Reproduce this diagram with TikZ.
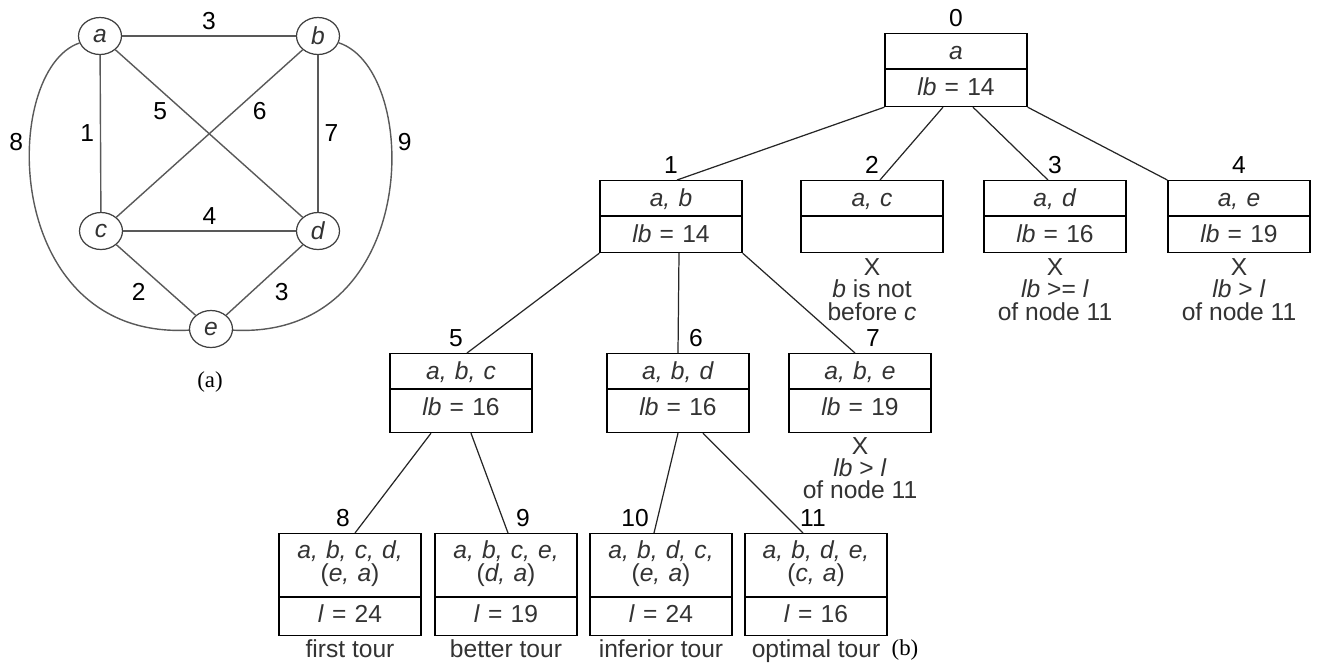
\documentclass[tikz,border=0pt]{standalone}
\usepackage{fontspec}
\setmainfont{Liberation Sans}
\newfontfamily\capfont{Liberation Serif}
\usetikzlibrary{positioning,calc,shapes.geometric,shapes.multipart}
\newcommand{\hdstrut}{\rule[-0.18cm]{0pt}{0.68cm}}
\newcommand{\lbstrut}{\rule[-0.18cm]{0pt}{0.70cm}}
\newcommand{\lbtallstrut}{\rule[-0.32cm]{0pt}{0.84cm}}
\newcommand{\tourtop}{\rule{0pt}{0.48cm}}
\newcommand{\tourbot}{\rule[-0.3cm]{0pt}{0pt}}
\newcommand{\lenstrut}{\rule[-0.24cm]{0pt}{0.74cm}}
\tikzset{
  vert/.style={ellipse,draw=black!75,line width=0.7pt,minimum width=0.86cm,
    minimum height=0.74cm,inner sep=0pt,text=black!80},
  gedge/.style={draw=black!65,line width=0.8pt},
  tedge/.style={draw=black!85,line width=0.7pt},
  tnode/.style={rectangle split,rectangle split parts=2,draw=black,line width=0.8pt,
    text width=2.84cm,align=center,inner sep=0pt,anchor=north,text=black!80,
    font=\fontsize{14}{13}\selectfont,
    execute at begin node={\lineskiplimit=-20pt\relax}},
  note/.style={align=center,inner sep=0pt,text=black!80,font=\fontsize{14}{12.6}\selectfont},
}

\begin{document}
\begin{tikzpicture}[x=0.02cm,y=-0.02cm,font=\fontsize{14}{13.3}\selectfont]
\useasboundingbox (0,0) rectangle (1319,664);
% (a) the graph
\node[vert] (a) at (100,36) {\textit{a}};
\node[vert] (b) at (318,36) {\textit{b}};
\node[vert] (c) at (101,231) {\textit{c}};
\node[vert] (d) at (318,231) {\textit{d}};
\node[vert] (e) at (211,329) {\textit{e}};
\draw[gedge] (a) -- node[above] {3} (b);
\draw[gedge] (a) -- node[left] {1} (c);
\draw[gedge] (b) -- node[right] {7} (d);
\draw[gedge] (c) -- node[above] {4} (d);
\draw[gedge] (a) -- node[pos=0.24,below=3.5pt] {5} (d);
\draw[gedge] (b) -- node[pos=0.23,below=4pt] {6} (c);
\draw[gedge] (c) -- node[pos=0.45,below left] {2} (e);
\draw[gedge] (d) -- node[pos=0.45,below right] {3} (e);
\draw[gedge] (a) .. controls (0,70) and (0,340) .. node[pos=0.36,left] {8} (e);
\draw[gedge] (b) .. controls (422,70) and (422,340) .. node[pos=0.36,right] {9} (e);
\node[font=\fontsize{13}{13}\capfont] (capa) at (210,382) {(a)};

% (b) the state-space tree
\node[tnode,label={above:0}] (b0) at (956,33)
  {\hdstrut\textit{a}\nodepart{two}\rule[-0.2cm]{0pt}{0.72cm}\textit{lb} = 14};
\node[tnode,label={above:1}] (b1) at (671,180)
  {\hdstrut\textit{a, b}\nodepart{two}\lbstrut\textit{lb} = 14};
\node[tnode,label={above:2}] (b2) at (872,180)
  {\hdstrut\textit{a, c}\nodepart{two}\lbstrut};
\node[tnode,label={above:3}] (b3) at (1055,180)
  {\hdstrut\textit{a, d}\nodepart{two}\lbstrut\textit{lb} = 16};
\node[tnode,label={above:4}] (b4) at (1239,180)
  {\hdstrut\textit{a, e}\nodepart{two}\lbstrut\textit{lb} = 19};
\node[tnode,label={[xshift=-0.1cm]above:5}] (b5) at (461,353)
  {\hdstrut\textit{a, b, c}\nodepart{two}\lbtallstrut\textit{lb} = 16};
\node[tnode,label={[xshift=0.36cm]above:6}] (b6) at (678,353)
  {\hdstrut\textit{a, b, d}\nodepart{two}\lbtallstrut\textit{lb} = 16};
\node[tnode,label={[xshift=0.26cm]above:7}] (b7) at (860,353)
  {\hdstrut\textit{a, b, e}\nodepart{two}\lbtallstrut\textit{lb} = 19};
\node[tnode,label={[xshift=-0.14cm]above:8}] (b8) at (350,533)
  {\tourtop\textit{a, b, c, d,}\\(\textit{e, a})\tourbot\nodepart{two}\lenstrut\textit{l} = 24};
\node[tnode,label={[xshift=0.34cm]above:9}] (b9) at (506,533)
  {\tourtop\textit{a, b, c, e,}\\(\textit{d, a})\tourbot\nodepart{two}\lenstrut\textit{l} = 19};
\node[tnode,label={[xshift=-0.52cm]above:10}] (b10) at (661,533)
  {\tourtop\textit{a, b, d, c,}\\(\textit{e, a})\tourbot\nodepart{two}\lenstrut\textit{l} = 24};
\node[tnode,label={[xshift=-0.06cm]above:11}] (b11) at (816,533)
  {\tourtop\textit{a, b, d, e,}\\(\textit{c, a})\tourbot\nodepart{two}\lenstrut\textit{l} = 16};

\node[note,below=3pt of b2] (n2) {X\\\textit{b} is not\\before \textit{c}};
\node[note,below=3pt of b3] (n3) {X\\\textit{lb} >= \textit{l}\\of node 11};
\node[note,below=3pt of b4] (n4) {X\\\textit{lb} > \textit{l}\\of node 11};
\node[note,below=2pt of b7] (n7) {X\\\textit{lb} > \textit{l}\\of node 11};
\node[note,below=2pt of b8] (t8) {first tour};
\node[note,below=2pt of b9] (t9) {better tour};
\node[note,below=2pt of b10] (t10) {inferior tour};
\node[note,below=2pt of b11] (t11) {optimal tour};
\node[font=\fontsize{13}{13}\capfont] (capb) at (905,650) {(b)};

\draw[tedge] (b0.south west) -- ($(b1.north)+(6,0)$);
\draw[tedge] ($(b0.south)+(-13,0)$) -- ($(b2.north)+(8,0)$);
\draw[tedge] ($(b0.south)+(17,0)$) -- ($(b3.north)+(-7,0)$);
\draw[tedge] (b0.south east) -- (b4.north west);
\draw[tedge] (b1.south west) -- ($(b5.north)+(6,0)$);
\draw[tedge] ($(b1.south)+(8,0)$) -- (b6.north);
\draw[tedge] (b1.south east) -- ($(b7.north)+(-5,0)$);
\draw[tedge] ($(b5.south)+(-30,0)$) -- ($(b8.north)+(5,0)$);
\draw[tedge] ($(b5.south)+(10,0)$) -- ($(b9.north)+(2,0)$);
\draw[tedge] (b6.south) -- ($(b10.north)+(-7,0)$);
\draw[tedge] ($(b6.south)+(25,0)$) -- ($(b11.north)+(-13,0)$);
\end{tikzpicture}
\end{document}
